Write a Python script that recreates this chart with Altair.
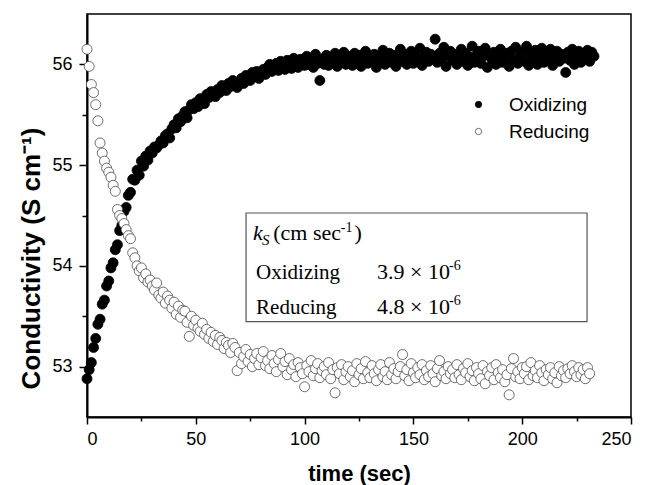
import altair as alt
import pandas as pd

# ---- data (1 sample per second) ----
sample_step = 1.0

oxidizing = [
    52.88, 52.97, 53.04, 53.19, 53.28, 53.42, 53.47, 53.62, 53.66, 53.80,
    53.85, 53.98, 54.03, 54.16, 54.21, 54.35, 54.40, 54.54, 54.58, 54.70,
    54.73, 54.86, 54.85, 54.95, 54.90, 55.04, 54.99, 55.09, 55.05, 55.14,
    55.12, 55.18, 55.17, 55.20, 55.24, 55.22, 55.29, 55.31, 55.27, 55.36,
    55.40, 55.37, 55.46, 55.43, 55.49, 55.53, 55.47, 55.55, 55.60, 55.56,
    55.62, 55.58, 55.66, 55.64, 55.61, 55.70, 55.67, 55.73, 55.72, 55.68,
    55.75, 55.72, 55.79, 55.76, 55.74, 55.81, 55.78, 55.84, 55.80, 55.77,
    55.83, 55.86, 55.81, 55.89, 55.87, 55.84, 55.92, 55.88, 55.93, 55.86,
    55.91, 55.95, 55.90, 55.97, 56.00, 55.93, 55.96, 56.01, 55.94, 56.03,
    55.98, 55.95, 56.04, 56.01, 55.96, 56.06, 56.00, 55.97, 56.05, 56.02,
    55.99, 56.08, 56.00, 56.06, 55.97, 56.10, 56.01, 55.84, 56.05, 56.00,
    56.09, 55.99, 56.06, 56.03, 56.11, 55.98, 56.07, 56.02, 56.12, 56.00,
    56.08, 56.04, 55.99, 56.11, 56.03, 56.09, 55.98, 56.06, 56.13, 56.01,
    56.07, 56.03, 56.10, 55.97, 56.08, 56.05, 56.14, 56.00, 56.06, 56.11,
    56.02, 56.09, 55.98, 56.07, 56.15, 56.03, 56.10, 56.00, 56.08, 56.13,
    56.01, 56.09, 56.05, 56.16, 55.99, 56.07, 56.12, 56.03, 56.10, 56.06,
    56.25, 56.02, 56.11, 56.05, 56.17, 55.98, 56.09, 56.13, 56.04, 56.10,
    56.00, 56.08, 56.15, 56.03, 56.11, 55.99, 56.07, 56.18, 56.02, 56.09,
    56.13, 56.01, 56.08, 56.16, 55.97, 56.10, 56.05, 56.12, 56.00, 56.09,
    56.15, 56.02, 56.07, 56.11, 55.98, 56.13, 56.04, 56.17, 56.01, 56.08,
    56.12, 56.03, 56.18, 55.99, 56.10, 56.06, 56.14, 56.00, 56.09, 56.16,
    56.02, 56.11, 56.05, 56.15, 55.99, 56.08, 56.13, 56.03, 56.10, 56.06,
    55.92, 56.12, 56.04, 56.15, 56.00, 56.09, 56.13, 56.02, 56.11, 56.06,
    56.14, 56.03, 56.12, 56.08,
]

reducing = [
    56.15, 55.98, 55.80, 55.72, 55.60, 55.44, 55.22, 55.12, 55.04, 54.97,
    54.93, 54.88, 54.80, 54.74, 54.56, 54.50, 54.47, 54.42, 54.36, 54.30,
    54.27, 54.13, 54.08, 54.00, 53.95, 53.98, 53.88, 53.92, 53.84, 53.86,
    53.80, 53.76, 53.83, 53.71, 53.68, 53.74, 53.63, 53.70, 53.66, 53.58,
    53.64, 53.52, 53.60, 53.49, 53.56, 53.55, 53.44, 53.30, 53.50, 53.41,
    53.46, 53.38, 53.35, 53.43, 53.32, 53.37, 53.28, 53.34, 53.25, 53.31,
    53.22, 53.29, 53.26, 53.18, 53.24, 53.21, 53.14, 53.23, 53.19, 52.96,
    53.14, 53.03, 53.10, 53.17, 53.05, 53.12, 53.00, 53.08, 53.13, 53.02,
    53.09, 53.15, 53.01, 53.06, 52.98, 53.11, 53.03, 52.95, 53.07, 53.13,
    53.00, 53.05, 52.92, 53.08, 52.97, 53.02, 52.90, 53.04, 52.99, 52.93,
    52.80, 53.01, 52.95, 53.06, 52.91, 52.98, 53.03, 52.89, 52.96, 53.00,
    52.92, 53.04, 52.88, 52.97, 52.74, 52.99, 52.93, 53.02, 52.87, 52.95,
    53.00, 52.90, 52.96, 52.85, 53.03, 52.92, 52.98, 52.88, 53.05, 52.94,
    52.89, 53.01, 52.93, 52.86, 52.97, 53.02, 52.90, 52.95, 52.87, 53.04,
    52.92, 52.98, 52.88, 52.95, 53.00, 53.12, 52.91, 52.97, 52.86, 53.03,
    52.94, 52.89, 52.99, 52.92, 53.02, 52.87, 52.96, 52.90, 53.01, 52.93,
    52.85, 52.98, 53.06, 52.91, 52.95, 52.88, 53.00, 52.93, 52.97, 52.89,
    53.02, 52.92, 52.87, 52.98, 52.94, 53.03, 52.90, 52.96, 52.86, 52.99,
    52.93, 52.88, 53.01, 52.83, 52.95, 52.91, 52.99, 52.87, 53.02, 52.94,
    52.89, 52.97, 52.85, 52.92, 52.72, 52.98, 53.08, 52.90, 52.95, 52.88,
    52.99, 52.93, 53.00, 52.87, 53.04, 52.91, 52.96, 52.89, 53.01, 52.94,
    52.86, 52.97, 52.92, 52.99, 52.88, 52.94, 52.84, 53.00, 52.91, 52.96,
    52.89, 52.98, 52.93, 53.01, 52.95, 52.90, 52.99, 52.92, 52.97, 52.88,
    52.99, 52.93,
]

series_names = ["Oxidizing", "Reducing"]
x_ticks = [0, 25, 50, 75, 100, 125, 150, 175, 200, 225, 250]
y_ticks = [53, 53.5, 54, 54.5, 55, 55.5, 56]

# annotation box (data coordinates)
box_t = [73.1]
box_t2 = [229.8]
box_v = [53.446]
box_v2 = [54.525]

# annotation texts
txt_italic = {"t": [76.3], "v": [54.257], "label": ["k"]}
txt_sub = {"t": [80.4], "v": [54.208], "label": ["S"]}
txt_head = {
    "t": [85.6, 122.9],
    "v": [54.257, 54.257],
    "label": ["(cm sec", ")"],
}
txt_rows = {
    "t": [77.7, 77.7],
    "v": [53.871, 53.525],
    "label": ["Oxidizing", "Reducing"],
}
txt_vals = {
    "t": [133.3, 133.3],
    "v": [53.871, 53.525],
    "label": ["3.9 \u00d7 10", "4.8 \u00d7 10"],
}
txt_sup = {
    "t": [116.6, 166.4, 166.4],
    "v": [54.337, 53.960, 53.614],
    "label": ["-1", "-6", "-6"],
}

rows = []
for i, val in enumerate(oxidizing):
    rows.append({"t": i * sample_step, "v": val, "series": "Oxidizing"})
for i, val in enumerate(reducing):
    rows.append({"t": i * sample_step, "v": val, "series": "Reducing"})
df = pd.DataFrame(rows)

xscale = alt.Scale(domain=[0, 250], nice=False, zero=False)
yscale = alt.Scale(domain=[52.5, 56.5], nice=False, zero=False)

x_axis = alt.Axis(
    values=x_ticks,
    labelExpr="datum.value % 50 === 0 ? datum.label : ''",
    tickSize={"condition": {"test": "datum.value % 50 !== 0", "value": 4}, "value": 7},
    labelPadding=6,
    title="time (sec)",
    titleFontSize=22,
    titleY=63,
    titleBaseline="alphabetic",
)
y_axis = alt.Axis(
    values=y_ticks,
    labelExpr="datum.value % 1 === 0 ? format(datum.value, 'd') : ''",
    tickSize={"condition": {"test": "datum.value % 1 !== 0", "value": 5}, "value": 8},
    labelPadding=7,
    title="Conductivity (S cm\u207b\u00b9)",
    titleFontSize=26,
    titleX=-56,
    titleY=244,
    titleAngle=-90,
    titleBaseline="middle",
    titleAlign="center",
)

points = alt.Chart(df).mark_point(
    shape="circle", filled=True, size=100, strokeWidth=0.8, opacity=1
).encode(
    x=alt.X("t:Q", scale=xscale, axis=x_axis),
    y=alt.Y("v:Q", scale=yscale, axis=y_axis),
    fill=alt.Fill(
        "series:N",
        scale=alt.Scale(domain=series_names, range=["black", "white"]),
        legend=alt.Legend(
            title=None,
            orient="none",
            legendX=382,
            legendY=81,
            symbolType="circle",
            symbolSize=40,
            symbolStrokeColor="black",
            symbolStrokeWidth=0.8,
            labelFont="Liberation Sans",
            labelFontSize=19,
            labelColor="black",
            labelOffset=21,
            rowPadding=7,
            padding=0,
        ),
    ),
    stroke=alt.Stroke(
        "series:N",
        scale=alt.Scale(domain=series_names, range=["black", "#4a4a4a"]),
        legend=None,
    ),
)

box = alt.Chart(pd.DataFrame({"t": box_t, "t2": box_t2, "v": box_v, "v2": box_v2})).mark_rect(
    fill="white", fillOpacity=0, stroke="#555555", strokeWidth=1.2
).encode(x=alt.X("t:Q", scale=xscale), x2="t2", y=alt.Y("v:Q", scale=yscale), y2="v2")


def text_layer(d, size, style="normal"):
    return alt.Chart(pd.DataFrame(d)).mark_text(
        align="left", baseline="alphabetic", font="Liberation Serif",
        fontSize=size, fontStyle=style, color="black"
    ).encode(x=alt.X("t:Q", scale=xscale), y=alt.Y("v:Q", scale=yscale), text="label:N")


chart = alt.layer(
    points,
    box,
    text_layer(txt_italic, 22, "italic"),
    text_layer(txt_sub, 15, "italic"),
    text_layer(txt_head, 22),
    text_layer(txt_rows, 21),
    text_layer(txt_vals, 22),
    text_layer(txt_sup, 14),
).properties(
    width=544,
    height=403,
    padding={"left": 87, "top": 14, "right": 15, "bottom": 68},
    autosize="none",
    background="white",
).configure_view(
    stroke="black", strokeWidth=1.5
).configure_axis(
    grid=False,
    domainColor="black",
    domainWidth=2,
    tickColor="black",
    tickWidth=1.5,
    labelFont="Liberation Sans",
    labelFontSize=18,
    labelColor="black",
    titleFont="Liberation Sans",
    titleFontWeight="bold",
    titleColor="black",
)

chart.save("out.html", embed_options={"renderer": "svg", "actions": False})
